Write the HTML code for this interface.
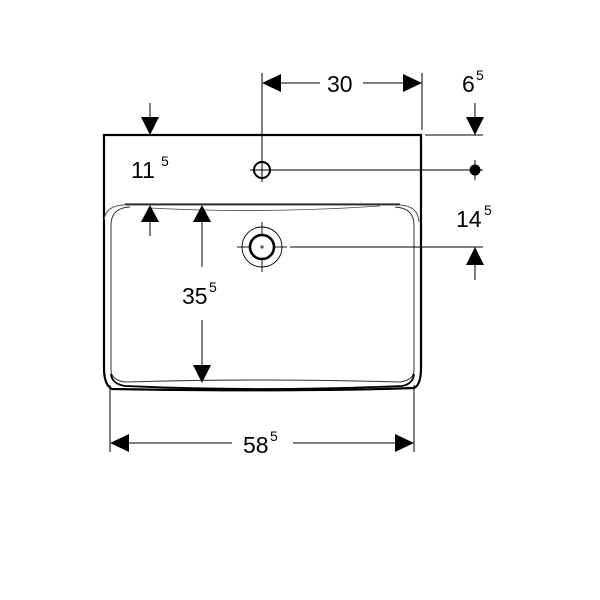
<!DOCTYPE html>
<html><head><meta charset="utf-8"><style>
html,body{margin:0;padding:0;background:#fff;}
svg{display:block}
text{font-family:"Liberation Sans",sans-serif;fill:#000}
</style></head><body>
<svg width="600" height="600" viewBox="0 0 600 600" xmlns="http://www.w3.org/2000/svg">
<rect width="600" height="600" fill="#fff"/>
<!-- outer basin -->
<path d="M104,135 L421,135 L421,368 Q421,385 414,388 Q300,392 112,389 Q104,385 104,368 Z" fill="none" stroke="#000" stroke-width="2.2"/>
<path d="M104,220 Q106,205 125,205 L400,205 Q418,206 419,222" fill="none" stroke="#555" stroke-width="1"/>
<path d="M125,204 L400,204" fill="none" stroke="#000" stroke-width="1"/>
<path d="M150,208 Q260,214 380,206" fill="none" stroke="#444" stroke-width="0.8"/>
<path d="M111,225 Q111,208 130,207 M395,207 Q414,208 414,225 L414,370 Q414,380 400,382 Q260,378 125,382 Q111,380 111,370 L111,225" fill="none" stroke="#333" stroke-width="1"/>
<path d="M111,374 Q112,384 125,386 Q260,392 402,386 Q413,384 414,374" fill="none" stroke="#000" stroke-width="1.8"/>
<line x1="110" y1="385" x2="110" y2="452" stroke="#000" stroke-width="1"/>
<line x1="414" y1="385" x2="414" y2="452" stroke="#000" stroke-width="1"/>
<line x1="262" y1="73" x2="262" y2="160" stroke="#000" stroke-width="1"/>
<line x1="422" y1="73" x2="422" y2="130" stroke="#000" stroke-width="1"/>
<line x1="425" y1="135" x2="483" y2="135" stroke="#000" stroke-width="1"/>
<line x1="273" y1="170" x2="483" y2="170" stroke="#000" stroke-width="1"/>
<line x1="290" y1="247" x2="483" y2="247" stroke="#000" stroke-width="1"/>
<line x1="128" y1="443" x2="232" y2="443" stroke="#000" stroke-width="1"/>
<line x1="293" y1="443" x2="396" y2="443" stroke="#000" stroke-width="1"/>
<polygon points="110,443 129,434 129,452" fill="#000"/>
<polygon points="414,443 395,434 395,452" fill="#000"/>
<text x="243" y="453" font-size="23">58</text><text x="270" y="441" font-size="14">5</text>
<line x1="280" y1="83" x2="320" y2="83" stroke="#000" stroke-width="1"/>
<line x1="363" y1="83" x2="404" y2="83" stroke="#000" stroke-width="1"/>
<polygon points="262,83 281,74 281,92" fill="#000"/>
<polygon points="422,83 403,74 403,92" fill="#000"/>
<text x="327" y="92" font-size="23">30</text>
<text x="462" y="92" font-size="23">6</text><text x="476" y="80" font-size="14">5</text>
<line x1="475" y1="103" x2="475" y2="120" stroke="#000" stroke-width="1"/>
<polygon points="475,135 466,117 484,117" fill="#000"/>
<circle cx="475" cy="170" r="5.5" fill="#000"/>
<line x1="475" y1="160" x2="475" y2="180" stroke="#000" stroke-width="1"/>
<line x1="150" y1="103" x2="150" y2="120" stroke="#000" stroke-width="1"/>
<polygon points="150,135 141,117 159,117" fill="#000"/>
<text x="131" y="178" font-size="23">11</text><text x="161" y="166" font-size="14">5</text>
<polygon points="150,205 141,222 159,222" fill="#000"/>
<line x1="150" y1="220" x2="150" y2="236" stroke="#000" stroke-width="1"/>
<polygon points="202,205 193,222 211,222" fill="#000"/>
<line x1="202" y1="220" x2="202" y2="267" stroke="#000" stroke-width="1"/>
<text x="182" y="304" font-size="23">35</text><text x="209" y="292" font-size="14">5</text>
<line x1="202" y1="320" x2="202" y2="366" stroke="#000" stroke-width="1"/>
<polygon points="202,383 193,365 211,365" fill="#000"/>
<text x="456" y="227" font-size="23">14</text><text x="484" y="215" font-size="14">5</text>
<polygon points="475,247 466,265 484,265" fill="#000"/>
<line x1="475" y1="262" x2="475" y2="280" stroke="#000" stroke-width="1"/>
<circle cx="262" cy="170" r="8" fill="none" stroke="#000" stroke-width="2"/>
<line x1="250" y1="170" x2="274" y2="170" stroke="#000" stroke-width="1"/>
<line x1="262" y1="158" x2="262" y2="182" stroke="#000" stroke-width="1"/>
<!-- drain -->
<circle cx="262" cy="247" r="20" fill="none" stroke="#000" stroke-width="0.9"/>
<circle cx="262" cy="247" r="12" fill="none" stroke="#000" stroke-width="2.6"/>
<line x1="237" y1="247" x2="250" y2="247" stroke="#000" stroke-width="0.9"/>
<line x1="274" y1="247" x2="287" y2="247" stroke="#000" stroke-width="0.9"/>
<line x1="262" y1="222" x2="262" y2="235" stroke="#000" stroke-width="0.9"/>
<line x1="262" y1="259" x2="262" y2="272" stroke="#000" stroke-width="0.9"/>
<line x1="260" y1="247" x2="264" y2="247" stroke="#000" stroke-width="0.8"/>
<line x1="262" y1="245" x2="262" y2="249" stroke="#000" stroke-width="0.8"/>
</svg>
</body></html>
